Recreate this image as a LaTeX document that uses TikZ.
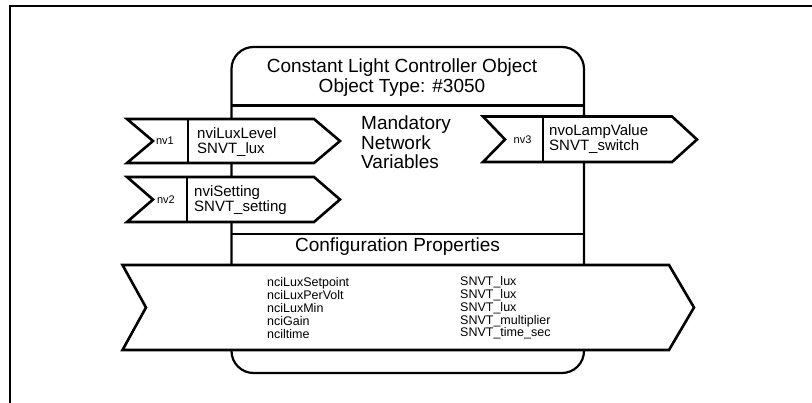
\documentclass[tikz,border=0pt]{standalone}
\usepackage{fontspec}
\setmainfont{Liberation Sans}
\begin{document}
\begin{tikzpicture}[x=1pt,y=-1pt,
  frameline/.style={line width=2pt},
  objbox/.style={draw, line width=2.2pt, rounded corners=22pt},
  rule/.style={line width=2.6pt},
  tag/.style={draw, fill=white, line width=2.6pt, line join=miter},
  bigtext/.style={font=\fontsize{19}{19.5}\selectfont, inner sep=0pt, align=center},
  leftbig/.style={font=\fontsize{19}{19.5}\selectfont, inner sep=0pt, align=left, anchor=west},
  nvname/.style={font=\fontsize{15}{15}\selectfont, inner sep=0pt, align=left, anchor=west},
  nvnum/.style={font=\fontsize{11}{11}\selectfont, inner sep=0pt},
  cplist/.style={font=\fontsize{12.5}{12.8}\selectfont, inner sep=0pt, align=left, anchor=west}]
\useasboundingbox (0,0) rectangle (812,403);

% page frame (left and top edges)
\draw[frameline] (10,403) -- (10,5.7) -- (812,5.7);

% object body
\draw[objbox] (231.5,47) rectangle (584,373);
\draw[rule] (231.5,105.5) -- (584,105.5);
\draw[rule] (231.5,234) -- (584,234);

\node[bigtext] (title) at (402,77.5)
  {Constant Light Controller Object\\Object Type: \#3050};
\node[leftbig] (mandatory) at (361,142.5)
  {Mandatory\\Network\\Variables};
\node[bigtext] (cfgtitle) at (397.5,247) {Configuration Properties};

% input network variable nv1
\draw[tag] (127,119) -- (314,119) -- (340,141) -- (314,163) -- (127,163)
  -- (153,141) -- cycle;
\draw[rule] (188,119) -- (188,163);
\node[nvnum] (nv1) at (165,141) {nv1};
\node[nvname] (nv1name) at (197,142) {nviLuxLevel\\SNVT\_lux};

% input network variable nv2
\draw[tag] (127,177) -- (314,177) -- (340,199.5) -- (314,222) -- (127,222)
  -- (153,199.5) -- cycle;
\draw[rule] (187,177) -- (187,222);
\node[nvnum] (nv2) at (166,199.5) {nv2};
\node[nvname] (nv2name) at (194,200) {nviSetting\\SNVT\_setting};

% output network variable nv3
\draw[tag] (483,116.5) -- (672,116.5) -- (697,139.5) -- (672,162) -- (483,162)
  -- (505,139.5) -- cycle;
\draw[rule] (543,116.5) -- (543,162);
\node[nvnum] (nv3) at (522.5,140) {nv3};
\node[nvname] (nv3name) at (549,139.5) {nvoLampValue\\SNVT\_switch};

% configuration property band
\draw[tag] (122.5,265) -- (669,265) -- (694,307.5) -- (669,350) -- (122.5,350)
  -- (146,307.5) -- cycle;
\node[cplist] (cpnames) at (267,308)
  {nciLuxSetpoint\\nciLuxPerVolt\\nciLuxMin\\nciGain\\nciltime};
\node[cplist] (cptypes) at (460,308)
  {SNVT\_lux\\SNVT\_lux\\SNVT\_lux\\SNVT\_multiplier\\SNVT\_time\_sec};
\end{tikzpicture}
\end{document}
